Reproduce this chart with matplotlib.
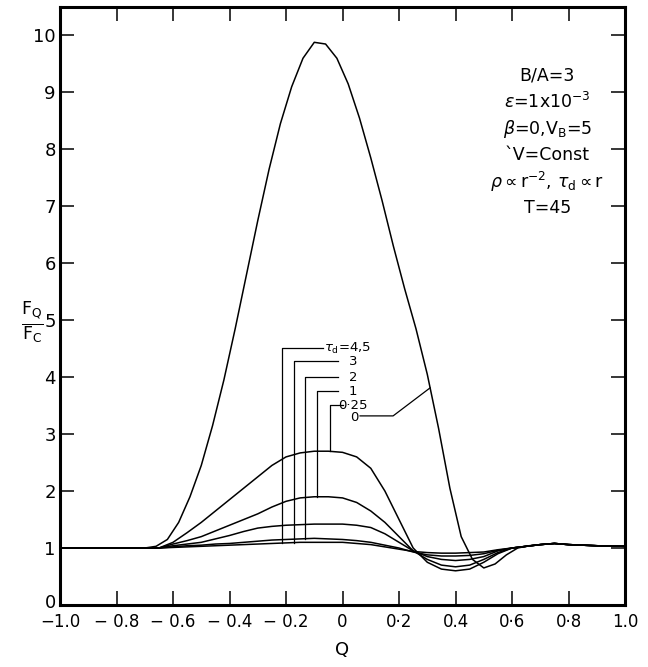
import numpy as np
import matplotlib.pyplot as plt
from matplotlib.transforms import ScaledTranslation

plt.rcParams['font.family'] = ['DejaVu Sans']
plt.rcParams['mathtext.fontset'] = 'dejavusans'

# -------------------- data --------------------
# tau_d = 0 curve (finer sampling around the big peak)
q_big = [-1.0, -0.8, -0.7, -0.66, -0.62, -0.58, -0.54, -0.5, -0.46, -0.42,
         -0.38, -0.34, -0.3, -0.26, -0.22, -0.18, -0.14, -0.1, -0.06, -0.02,
         0.02, 0.06, 0.1, 0.14, 0.18, 0.22, 0.26, 0.3, 0.34, 0.38, 0.42,
         0.46, 0.5, 0.54, 0.58, 0.62, 0.66, 0.7, 0.75, 0.8, 0.9, 1.0]
fq_tau0 = [1.0, 1.0, 1.0, 1.03, 1.15, 1.45, 1.9, 2.45, 3.15, 3.95,
           4.85, 5.8, 6.75, 7.65, 8.45, 9.1, 9.6, 9.88, 9.85, 9.6,
           9.15, 8.55, 7.85, 7.1, 6.3, 5.55, 4.85, 4.05, 3.1, 2.05, 1.2,
           0.8, 0.65, 0.72, 0.88, 1.0, 1.04, 1.06, 1.08, 1.06, 1.04, 1.03]

# common abscissa Q for the damped curves
q = [-1.0, -0.9, -0.8, -0.7, -0.65, -0.6, -0.55, -0.5, -0.45, -0.4, -0.35, -0.3,
     -0.25, -0.2, -0.15, -0.1, -0.05, 0.0, 0.05, 0.1, 0.15, 0.2, 0.25, 0.3,
     0.35, 0.4, 0.45, 0.5, 0.55, 0.6, 0.65, 0.7, 0.75, 0.8, 0.9, 1.0]

# F_Q / F_c for each damping time tau_d
fq_tau025 = [1.0, 1.0, 1.0, 1.0, 1.0, 1.1, 1.27, 1.45, 1.65, 1.85, 2.05, 2.25,
             2.45, 2.6, 2.67, 2.7, 2.7, 2.68, 2.6, 2.4, 2.0, 1.5, 1.0, 0.75,
             0.63, 0.6, 0.63, 0.75, 0.9, 1.0, 1.03, 1.06, 1.08, 1.06, 1.04, 1.03]
fq_tau1 = [1.0, 1.0, 1.0, 1.0, 1.0, 1.07, 1.13, 1.2, 1.3, 1.4, 1.5, 1.6,
           1.72, 1.82, 1.88, 1.9, 1.9, 1.88, 1.8, 1.65, 1.45, 1.2, 0.95, 0.8,
           0.7, 0.67, 0.7, 0.8, 0.92, 1.0, 1.03, 1.06, 1.08, 1.06, 1.04, 1.03]
fq_tau2 = [1.0, 1.0, 1.0, 1.0, 1.0, 1.04, 1.07, 1.1, 1.16, 1.22, 1.29, 1.35,
           1.38, 1.4, 1.41, 1.42, 1.42, 1.42, 1.4, 1.36, 1.25, 1.1, 0.95, 0.85,
           0.8, 0.78, 0.8, 0.85, 0.95, 1.0, 1.03, 1.06, 1.08, 1.06, 1.04, 1.03]
fq_tau3 = [1.0, 1.0, 1.0, 1.0, 1.0, 1.02, 1.04, 1.05, 1.07, 1.08, 1.1, 1.12,
           1.14, 1.15, 1.16, 1.17, 1.16, 1.15, 1.13, 1.1, 1.05, 1.0, 0.93, 0.88,
           0.86, 0.86, 0.87, 0.9, 0.96, 1.0, 1.03, 1.06, 1.08, 1.06, 1.04, 1.03]
fq_tau45 = [1.0, 1.0, 1.0, 1.0, 1.0, 1.01, 1.02, 1.03, 1.04, 1.05, 1.06, 1.07,
            1.08, 1.09, 1.1, 1.1, 1.1, 1.1, 1.08, 1.06, 1.02, 0.98, 0.94, 0.92,
            0.91, 0.91, 0.92, 0.93, 0.97, 1.0, 1.03, 1.06, 1.08, 1.06, 1.04, 1.03]

damped = [fq_tau025, fq_tau1, fq_tau2, fq_tau3, fq_tau45]

# curve labels and leader positions (vertical leg x, label height y)
tau_labels = [r'$\tau_{\rm d}$=4,5', '3', '2', '1', '0·25']
tau_curve = [fq_tau45, fq_tau45, fq_tau3, fq_tau1, fq_tau025]
leader_x = [-0.214, -0.172, -0.133, -0.09, -0.044]
leader_y = [4.51, 4.28, 4.0, 3.75, 3.51]
leader_end = [-0.069, -0.016, -0.016, -0.016, 0.0]

xticks = [-1.0, -0.8, -0.6, -0.4, -0.2, 0.0, 0.2, 0.4, 0.6, 0.8, 1.0]
xticklabels = ['−1.0', '− 0.8', '− 0.6', '− 0.4', '− 0.2', '0',
               '0·2', '0.4', '0·6', '0·8', '1.0']
yticks = list(range(0, 11))

params = ['B/A=3', r'$\epsilon$=1x10$^{-3}$', r'$\beta$=0,V$_{\rm B}$=5',
          '`V=Const', r'$\rho\propto$r$^{-2}$, $\tau_{\rm d}\propto$r', 'T=45']

# -------------------- figure --------------------
fig = plt.figure(figsize=(6.48, 6.67), dpi=100)
ax = fig.add_axes([0.0926, 0.093, 0.872, 0.8965])

ax.plot(q_big, fq_tau0, color='black', lw=1.1)
for c in damped:
    ax.plot(q, c, color='black', lw=1.1)

# leaders for the tau_d labels
for i, (lab, cv, lx, ly, le) in enumerate(zip(tau_labels, tau_curve, leader_x,
                                               leader_y, leader_end)):
    yend = np.interp(lx, q, cv)
    ax.plot([lx, lx, le], [yend, ly, ly], color='black', lw=0.9)
    if i == 0:
        ax.text(le + 0.005, ly, lab, fontsize=9.5, va='center', ha='left')
    else:
        ax.text(0.037, ly, lab, fontsize=9.5, va='center', ha='center')

# leader for tau_d = 0 (goes up to the big curve)
ax.text(0.04, 3.3, '0', fontsize=9.5, va='center', ha='center')
ax.plot([0.062, 0.179, 0.31], [3.32, 3.32, np.interp(0.31, q_big, fq_tau0)],
        color='black', lw=0.9)

# parameter block
for i, s in enumerate(params):
    ax.text(0.725, 9.3 - i * 0.467, s, fontsize=12.5, ha='center', va='center')

ax.set_xlim(-1.0, 1.0)
ax.set_ylim(0, 10.5)
ax.set_xticks(xticks)
ax.set_xticklabels(xticklabels, fontsize=12)
ax.set_yticks(yticks)
ax.set_yticklabels([str(v) for v in yticks], fontsize=13)
ax.tick_params(direction='in', length=10, width=1.1, top=True, right=True, pad=6)
ax.tick_params(axis='y', pad=3)
for sp in ax.spines.values():
    sp.set_linewidth(2.2)

# nudge the y "0" label up a little so it clears the "-1.0" below it
lbl0 = ax.get_yticklabels()[0]
lbl0.set_transform(lbl0.get_transform() + ScaledTranslation(0, 3 / 72, fig.dpi_scale_trans))

ax.set_xlabel('Q', fontsize=13, labelpad=7)
fig.text(0.05, 0.515, r'$\frac{\mathregular{F_Q}}{\mathregular{F_C}}$', fontsize=18,
         ha='center', va='center')

fig.savefig('out.png', dpi=100)
